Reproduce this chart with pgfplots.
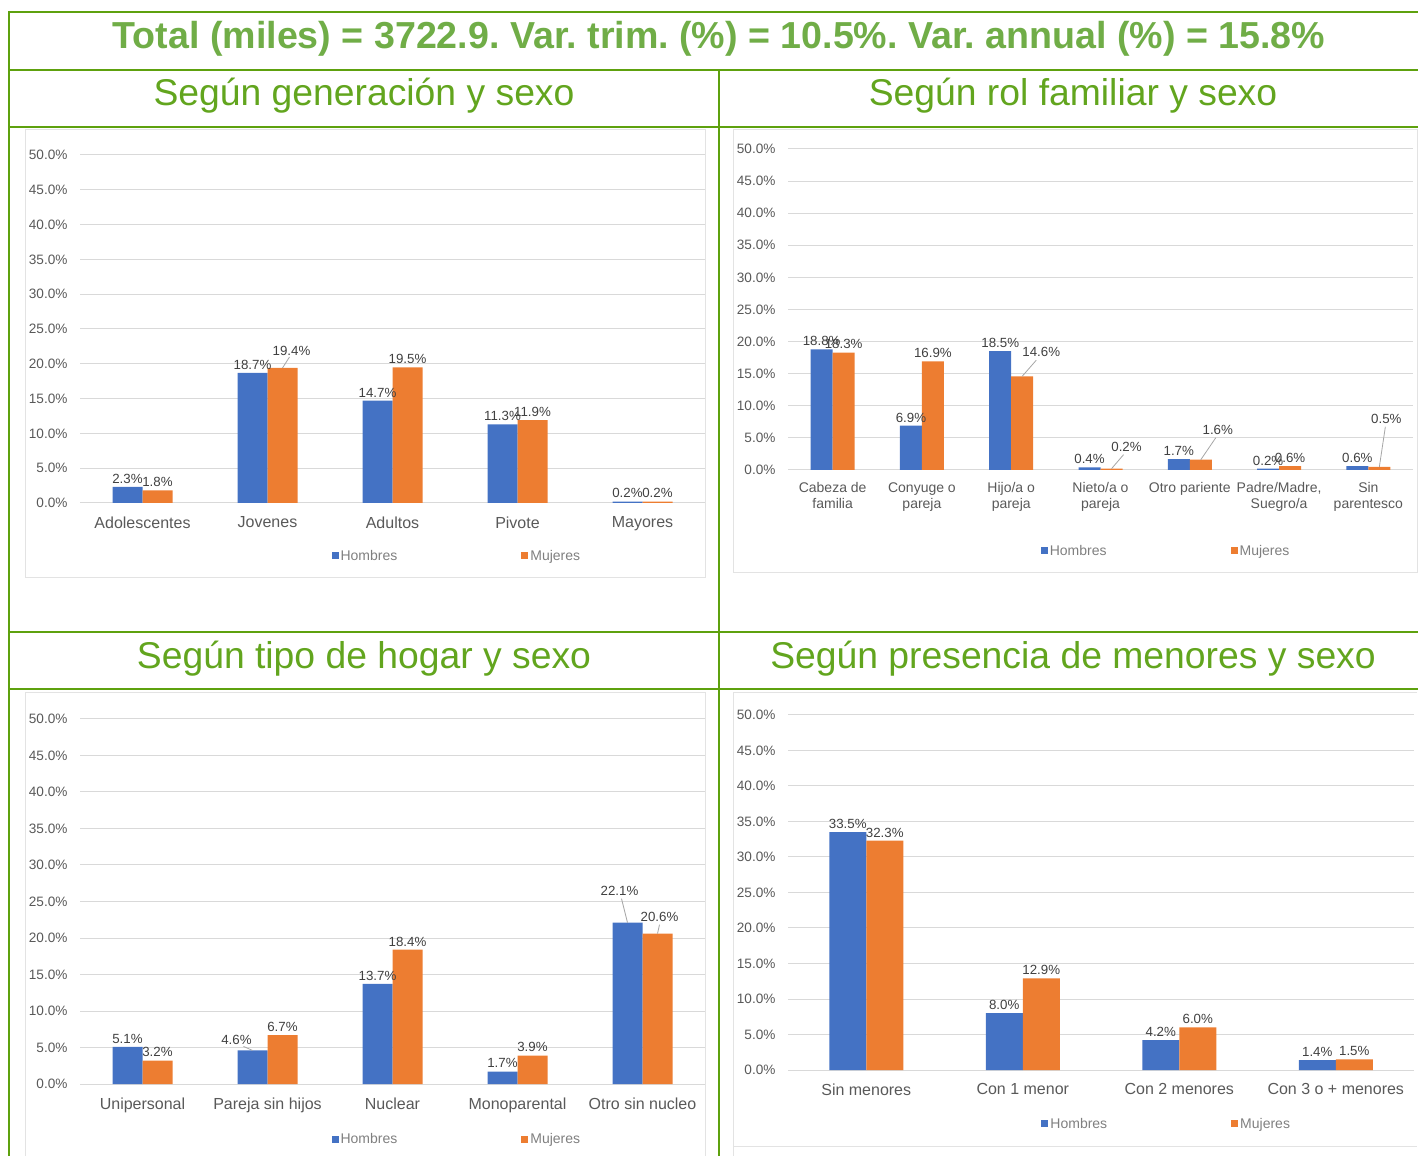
\documentclass[border=0pt]{standalone}
\usepackage{fontspec}
\setmainfont{Liberation Sans}
\usepackage{pgfplots}
\usepackage{pgfplotstable}
\pgfplotsset{compat=1.18}
\frenchspacing
\definecolor{titlegreen}{HTML}{70AD47}
\definecolor{headgreen}{HTML}{62A51E}
\definecolor{bordergreen}{HTML}{5EA10E}
\definecolor{hblue}{HTML}{4472C4}
\definecolor{morange}{HTML}{ED7D31}
\definecolor{gridgray}{HTML}{D9D9D9}
\definecolor{tickgray}{HTML}{595959}
\definecolor{labgray}{HTML}{404040}
\definecolor{leggray}{HTML}{7F7F7F}
\definecolor{boxgray}{HTML}{E3E3E3}
\definecolor{leadgray}{HTML}{A6A6A6}

\pgfplotstableread{
x h m hx hy mx my
0 2.3 1.8 0 0 0 0
1 18.7 19.4 0 0 9 9
2 14.7 19.5 0 0 0 0
3 11.3 11.9 0 0 0 0
4 0.2 0.2 0 0 0 0
}\gen
\pgfplotstableread{
x h m hx hy mx my
0 18.8 18.3 0 0 0 0
1 6.9 16.9 0 0 0 0
2 18.5 14.6 0 0 19 16
3 0.4 0.2 0 0 15 14
4 1.7 1.6 0 0 17 22
5 0.2 0.6 0 0 0 0
6 0.6 0.5 0 0 7 40
}\rol
\pgfplotstableread{
x h m hx hy mx my
0 5.1 3.2 0 0 0 0
1 4.6 6.7 -16 2 0 0
2 13.7 18.4 0 0 0 0
3 1.7 3.9 0 0 0 0
4 22.1 20.6 -8 24 2 8
}\hog
\pgfplotstableread{
x h m hx hy mx my
0 33.5 32.3 0 0 0 0
1 8.0 12.9 0 0 0 0
2 4.2 6.0 0 0 0 0
3 1.4 1.5 0 0 0 0
}\men

\tikzset{leader/.style={draw=leadgray, line width=0.8pt}}
\pgfplotsset{
  panel/.style={
    scale only axis,
    ybar=0pt,
    ymin=0, ymax=50, ytick={0,5,...,50},
    axis line style={draw=none},
    major tick length=0pt,
    ymajorgrids,
    grid style={draw=gridgray, line width=1pt},
    /pgf/number format/assume math mode=true,
    yticklabel={\pgfmathprintnumber[fixed,fixed zerofill,precision=1]{\tick}\%},
    yticklabel style={font=\fontsize{13.6}{15}\selectfont, text=tickgray, xshift=-9pt},
    xtick=data,
    xticklabel style={font=\fontsize{16}{18}\selectfont, text=tickgray, align=center, yshift=-10pt},
    nodes near coords={\pgfmathprintnumber[fixed,fixed zerofill,precision=1]{\pgfplotspointmeta}\%},
    nodes near coords style={font=\fontsize{13.3}{15}\selectfont, text=labgray, xshift=\labdx pt, yshift=\labdy pt},
    legend columns=2,
    legend style={draw=none, fill=none, font=\fontsize{14}{16}\selectfont, text=leggray, anchor=center,
      /tikz/every even column/.append style={column sep=122pt}},
    legend image code/.code={\fill[##1] (0pt,-3.5pt) rectangle (7pt,3.5pt);},
    clip=false,
  },
  hser/.style={fill=hblue, draw=none,
    visualization depends on={\thisrow{hx}\as\labdx},
    visualization depends on={\thisrow{hy}\as\labdy}},
  mser/.style={fill=morange, draw=none,
    visualization depends on={\thisrow{mx}\as\labdx},
    visualization depends on={\thisrow{my}\as\labdy}},
}

\begin{document}
\begin{tikzpicture}
\begin{scope}[x=1pt,y=1pt]
\path[use as bounding box] (0,0) rectangle (1418,1156);
% chart boxes
\draw[boxgray, line width=1pt] (25,1026) rectangle (705,578);
\draw[boxgray, line width=1pt] (733,1026) rectangle (1417,583);
\draw[boxgray, line width=1pt] (25,463) -- (25,0);
\draw[boxgray, line width=1pt] (25,463) -- (705,463) -- (705,0);
\draw[boxgray, line width=1pt] (733,0) -- (733,463) -- (1417,463);
\draw[boxgray, line width=1pt] (733,10) -- (1417,10);
% green table
\begin{scope}[bordergreen, line width=2pt]
\draw (9,1144) -- (1418,1144);
\draw (9,1086) -- (1418,1086);
\draw (9,1029) -- (1418,1029);
\draw (9,524) -- (1418,524);
\draw (9,467) -- (1418,467);
\draw (9,1145) -- (9,0);
\draw (719,1086) -- (719,0);
\end{scope}
\node[anchor=base, text=titlegreen, font=\fontsize{37.6}{44}\selectfont\bfseries] at (719,1107)
  {Total (miles) = 3722.9. Var. trim. (\%) = 10.5\%. Var. annual (\%) = 15.8\%};
\node[anchor=base, text=headgreen, font=\fontsize{37.3}{44}\selectfont] at (364,1050) {Según generación y sexo};
\node[anchor=base, text=headgreen, font=\fontsize{37.3}{44}\selectfont] at (1073,1050) {Según rol familiar y sexo};
\node[anchor=base, text=headgreen, font=\fontsize{37.3}{44}\selectfont] at (364,487) {Según tipo de hogar y sexo};
\node[anchor=base, text=headgreen, font=\fontsize{37.3}{44}\selectfont] at (1073,487) {Según presencia de menores y sexo};
\end{scope}

% Chart 1: generacion
\begin{axis}[panel, at={(80pt,653pt)}, anchor=south west, width=625pt, height=348pt,
  bar width=30pt, xmin=-0.5, xmax=4.5,
  xticklabels={Adolescentes,Jovenes,Adultos,Pivote,Mayores},
  legend style={at={(0.603,-0.152)}}]
\addplot[hser] table[x=x,y=h]{\gen};
\addplot[mser] table[x=x,y=m]{\gen};
\legend{Hombres,Mujeres}
\draw[leader] ([xshift=15pt]axis cs:1,19.4) -- ++(7pt,11pt);
\end{axis}

% Chart 2: rol familiar
\begin{axis}[panel, at={(788pt,686pt)}, anchor=south west, width=625pt, height=321pt,
  bar width=22pt, xmin=-0.5, xmax=6.5,
  xticklabel style={font=\fontsize{14}{16}\selectfont, yshift=1pt},
  xticklabels={{Cabeza de\\familia},{Conyuge o\\pareja},{Hijo/a o\\pareja},{Nieto/a o\\pareja},{Otro pariente},{Padre/Madre,\\Suegro/a},{Sin\\parentesco}},
  legend style={at={(0.605,-0.252)}}]
\addplot[hser] table[x=x,y=h]{\rol};
\addplot[mser] table[x=x,y=m]{\rol};
\legend{Hombres,Mujeres}
\draw[leader] ([xshift=11pt]axis cs:2,14.6) -- ++(14pt,16pt);
\draw[leader] ([xshift=11pt]axis cs:3,0.2) -- ++(12pt,14pt);
\draw[leader] ([xshift=11pt]axis cs:4,1.6) -- ++(15pt,22pt);
\draw[leader] ([xshift=11pt]axis cs:6,0.5) -- ++(6pt,40pt);
\end{axis}

% Chart 3: tipo de hogar
\begin{axis}[panel, at={(80pt,72pt)}, anchor=south west, width=625pt, height=365pt,
  bar width=30pt, xmin=-0.5, xmax=4.5,
  xticklabels={Unipersonal,Pareja sin hijos,Nuclear,Monoparental,Otro sin nucleo},
  legend style={at={(0.603,-0.151)}}]
\addplot[hser] table[x=x,y=h]{\hog};
\addplot[mser] table[x=x,y=m]{\hog};
\legend{Hombres,Mujeres}
\draw[leader] ([xshift=-15pt]axis cs:1,4.6) -- ++(-9pt,4pt);
\draw[leader] ([xshift=-15pt]axis cs:4,22.1) -- ++(-6pt,24pt);
\draw[leader] ([xshift=15pt]axis cs:4,20.6) -- ++(2pt,9pt);
\end{axis}

% Chart 4: menores
\begin{axis}[panel, at={(788pt,86pt)}, anchor=south west, width=626pt, height=355pt,
  bar width=37pt, xmin=-0.5, xmax=3.5,
  xticklabels={Sin menores,Con 1 menor,Con 2 menores,Con 3 o + menores},
  legend style={at={(0.605,-0.152)}}]
\addplot[hser] table[x=x,y=h]{\men};
\addplot[mser] table[x=x,y=m]{\men};
\legend{Hombres,Mujeres}
\end{axis}
\end{tikzpicture}
\end{document}
